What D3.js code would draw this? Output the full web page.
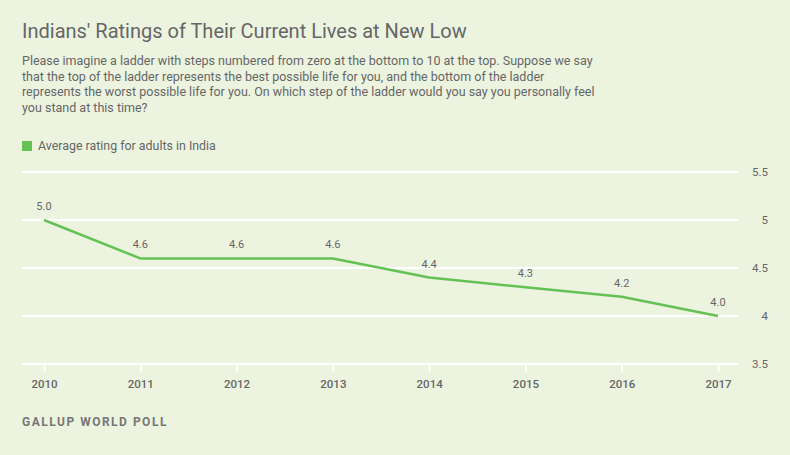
<!DOCTYPE html>
<html><head><meta charset="utf-8">
<script src="https://cdn.jsdelivr.net/npm/d3@7"></script>
<style>
html,body{margin:0;padding:0;background:#ecf4e0;}
svg{display:block;font-family:Roboto, "Open Sans", sans-serif;}
</style></head>
<body>
<svg id="chart" width="790" height="455"></svg>
<script>
const years = [2010, 2011, 2012, 2013, 2014, 2015, 2016, 2017];
const ratings = [5.0, 4.6, 4.6, 4.6, 4.4, 4.3, 4.2, 4.0];
const yTicks = [3.5, 4, 4.5, 5, 5.5];
const title = "Indians' Ratings of Their Current Lives at New Low";
const subtitleLines = [
  "Please imagine a ladder with steps numbered from zero at the bottom to 10 at the top. Suppose we say",
  "that the top of the ladder represents the best possible life for you, and the bottom of the ladder",
  "represents the worst possible life for you. On which step of the ladder would you say you personally feel",
  "you stand at this time?"
];
const seriesName = "Average rating for adults in India";
const source = "GALLUP WORLD POLL";

const svg = d3.select("#chart");
const green = "#64c254";
const textCol = "#666";

svg.append("rect").attr("width",790).attr("height",455).attr("fill","#ecf4e0");

svg.append("text").attr("x",22).attr("y",38).attr("font-size",20).attr("fill",textCol).text(title);
svg.selectAll(".sub").data(subtitleLines).join("text")
  .attr("x",22).attr("y",(d,i)=>65+i*15.7).attr("font-size",12.5).attr("fill",textCol).text(d=>d);

svg.append("rect").attr("x",22).attr("y",141).attr("width",10).attr("height",10).attr("fill",green);
svg.append("text").attr("x",38).attr("y",150).attr("font-size",12.4).attr("fill",textCol).text(seriesName);

const x = d3.scalePoint().domain(years).range([44,718]);
const y = d3.scaleLinear().domain([3.5,5.5]).range([364,172]);

// gridlines
svg.append("g").selectAll("line").data(yTicks).join("line")
  .attr("x1",22).attr("x2",739).attr("y1",d=>y(d)).attr("y2",d=>y(d))
  .attr("stroke","#fff").attr("stroke-width",2);

// y axis labels (right)
const yAxis = d3.axisRight(y).tickValues(yTicks).tickSize(0).tickPadding(0).tickFormat(d3.format("~g"));
const yg = svg.append("g").attr("transform","translate(768,0)").call(yAxis);
yg.select(".domain").remove();
yg.selectAll("text").attr("text-anchor","end").attr("font-size",11.5).attr("fill",textCol).attr("font-family","Roboto, sans-serif");

// x axis
const xAxis = d3.axisBottom(x).tickSize(8).tickPadding(8).tickFormat(d3.format("d"));
const xg = svg.append("g").attr("transform","translate(0,364)").call(xAxis);
xg.select(".domain").remove();
xg.selectAll("line").attr("stroke","#fff").attr("stroke-width",2);
xg.selectAll("text").attr("font-size",11.5).attr("font-weight","500").attr("fill",textCol).attr("font-family","Roboto, sans-serif");

// line
const line = d3.line().x((d,i)=>x(years[i])).y(d=>y(d));
svg.append("path").datum(ratings).attr("d",line).attr("fill","none")
  .attr("stroke",green).attr("stroke-width",2.5).attr("stroke-linejoin","round");

// labels
svg.append("g").selectAll("text").data(ratings).join("text")
  .attr("x",(d,i)=>x(years[i])).attr("y",d=>y(d)-10).attr("text-anchor","middle")
  .attr("font-size",11).attr("fill",textCol).text(d=>d3.format(".1f")(d));

svg.append("text").attr("x",22).attr("y",426).attr("font-size",12).attr("font-weight","bold")
  .attr("letter-spacing",1.5).attr("fill","#777").text(source);
</script>
</body></html>
